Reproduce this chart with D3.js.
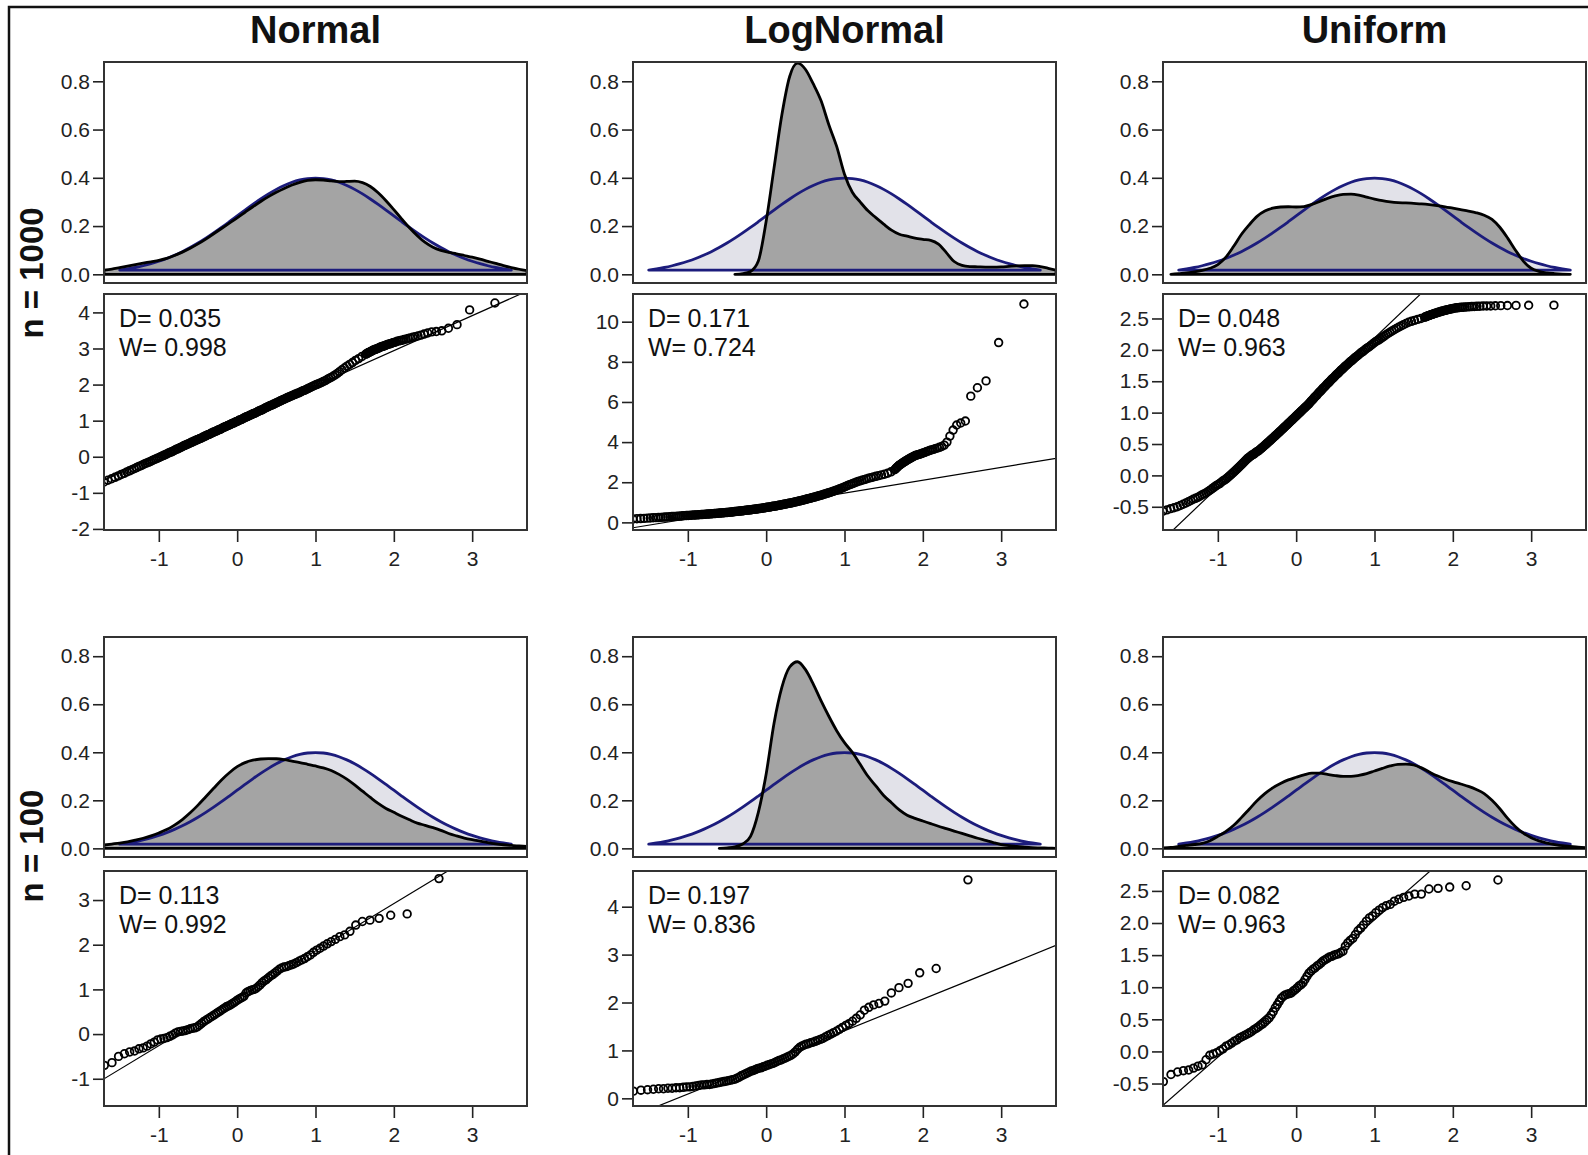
<!DOCTYPE html>
<html>
<head>
<meta charset="utf-8">
<script src="https://cdn.jsdelivr.net/npm/d3@7"></script>
<style>
body { margin: 0; background: #fff; }
svg { display: block; }
</style>
</head>
<body>
<svg id="chart" width="1588" height="1155"></svg>
<script>
// ---- data ----
const columns = ['Normal', 'LogNormal', 'Uniform'];
const rowLabels = ['n = 1000', 'n = 100'];
const sampleSizes = [1000, 100];

// density grid: -1.7 .. 3.7 by 0.1 (55 points); null = curve not drawn there
const densGrid = d3.range(55).map(i => +(-1.7 + i * 0.1).toFixed(1));

// reference normal curve, mean 1 sd 1, drawn from -1.5 to 3.5
const densBlue = [
  null, null, 0.0175, 0.0224, 0.0283, 0.0355, 0.0440, 0.0540, 0.0656, 0.0790,
  0.0940, 0.1109, 0.1295, 0.1497, 0.1714, 0.1942, 0.2179, 0.2420, 0.2661, 0.2897,
  0.3123, 0.3332, 0.3521, 0.3683, 0.3814, 0.3910, 0.3970, 0.3989, 0.3970, 0.3910,
  0.3814, 0.3683, 0.3521, 0.3332, 0.3123, 0.2897, 0.2661, 0.2420, 0.2179, 0.1942,
  0.1714, 0.1497, 0.1295, 0.1109, 0.0940, 0.0790, 0.0656, 0.0540, 0.0440, 0.0355,
  0.0283, 0.0224, 0.0175, null, null
];

const densNormal1000 = [
  0.017, 0.022, 0.028, 0.034, 0.040, 0.046, 0.052, 0.058, 0.066, 0.078,
  0.092, 0.108, 0.126, 0.146, 0.168, 0.190, 0.212, 0.234, 0.257, 0.280,
  0.302, 0.322, 0.340, 0.356, 0.370, 0.381, 0.389, 0.392, 0.391, 0.387,
  0.384, 0.385, 0.386, 0.380, 0.364, 0.338, 0.305, 0.268, 0.230, 0.193,
  0.160, 0.132, 0.112, 0.099, 0.091, 0.085, 0.078, 0.071, 0.063, 0.054,
  0.045, 0.036, 0.028, 0.021, 0.015
];
const densLogNormal1000 = [
  null, null, null, null, null, null, null, null, null, null,
  null, null, null, 0.000, 0.003, 0.012, 0.055, 0.220, 0.440, 0.660,
  0.820, 0.875, 0.850, 0.790, 0.720, 0.620, 0.530, 0.415, 0.340, 0.300,
  0.263, 0.235, 0.208, 0.183, 0.166, 0.158, 0.150, 0.145, 0.141, 0.125,
  0.090, 0.053, 0.037, 0.032, 0.031, 0.030, 0.030, 0.031, 0.033, 0.035,
  0.036, 0.036, 0.032, 0.025, 0.017
];
const densUniform1000 = [
  null, 0.000, 0.003, 0.006, 0.010, 0.016, 0.025, 0.040, 0.070, 0.115,
  0.165, 0.205, 0.240, 0.262, 0.274, 0.279, 0.280, 0.279, 0.281, 0.290,
  0.302, 0.315, 0.325, 0.331, 0.332, 0.328, 0.320, 0.312, 0.305, 0.300,
  0.297, 0.296, 0.294, 0.292, 0.289, 0.285, 0.280, 0.274, 0.268, 0.262,
  0.255, 0.245, 0.228, 0.195, 0.150, 0.100, 0.055, 0.025, 0.012, 0.006,
  0.003, 0.001, 0.000, null, null
];
const densNormal100 = [
  0.014, 0.018, 0.022, 0.027, 0.034, 0.042, 0.052, 0.064, 0.078, 0.097,
  0.120, 0.148, 0.180, 0.215, 0.250, 0.285, 0.315, 0.340, 0.357, 0.367,
  0.372, 0.374, 0.373, 0.369, 0.363, 0.357, 0.350, 0.343, 0.335, 0.324,
  0.308, 0.288, 0.264, 0.238, 0.212, 0.187, 0.166, 0.150, 0.134, 0.119,
  0.105, 0.096, 0.086, 0.075, 0.062, 0.052, 0.043, 0.036, 0.030, 0.024,
  0.019, 0.015, 0.012, 0.010, 0.008
];
const densLogNormal100 = [
  null, null, null, null, null, null, null, null, null, null,
  null, 0.000, 0.002, 0.006, 0.018, 0.050, 0.150, 0.310, 0.520, 0.670,
  0.755, 0.777, 0.745, 0.685, 0.615, 0.550, 0.490, 0.440, 0.400, 0.350,
  0.300, 0.260, 0.220, 0.190, 0.160, 0.138, 0.125, 0.114, 0.103, 0.092,
  0.082, 0.072, 0.062, 0.052, 0.042, 0.033, 0.024, 0.016, 0.011, 0.008,
  0.005, 0.003, 0.002, 0.001, 0.000
];
const densUniform100 = [
  0.002, 0.004, 0.008, 0.012, 0.016, 0.021, 0.032, 0.050, 0.070, 0.095,
  0.128, 0.163, 0.198, 0.228, 0.252, 0.270, 0.285, 0.296, 0.306, 0.313,
  0.313, 0.308, 0.303, 0.300, 0.300, 0.304, 0.311, 0.322, 0.333, 0.343,
  0.350, 0.351, 0.347, 0.335, 0.318, 0.302, 0.289, 0.278, 0.268, 0.258,
  0.245, 0.228, 0.200, 0.165, 0.125, 0.090, 0.063, 0.044, 0.031, 0.022,
  0.016, 0.011, 0.008, 0.005, 0.003
];

// sorted sample values. n = 1000: order statistics 35,40,...,945 then 950..1000
const ranks1000 = d3.range(35, 950, 5).concat(d3.range(950, 1001));
const ranks100 = d3.range(1, 101);

const qqNormal1000 = [
  -0.82, -0.76, -0.70, -0.65, -0.61, -0.57, -0.53, -0.49, -0.46, -0.42,
  -0.39, -0.36, -0.33, -0.30, -0.27, -0.25, -0.22, -0.19, -0.17, -0.15,
  -0.13, -0.10, -0.08, -0.06, -0.04, -0.02, 0.00, 0.02, 0.04, 0.06,
  0.08, 0.10, 0.12, 0.13, 0.15, 0.17, 0.19, 0.21, 0.22, 0.24,
  0.26, 0.27, 0.29, 0.31, 0.32, 0.34, 0.35, 0.37, 0.38, 0.40,
  0.41, 0.43, 0.44, 0.46, 0.47, 0.48, 0.50, 0.51, 0.52, 0.54,
  0.55, 0.57, 0.58, 0.60, 0.61, 0.62, 0.63, 0.65, 0.66, 0.68,
  0.69, 0.70, 0.71, 0.73, 0.74, 0.75, 0.76, 0.78, 0.79, 0.81,
  0.82, 0.83, 0.84, 0.86, 0.87, 0.88, 0.89, 0.91, 0.92, 0.93,
  0.94, 0.96, 0.97, 0.98, 0.99, 1.01, 1.02, 1.03, 1.04, 1.06,
  1.07, 1.09, 1.10, 1.11, 1.12, 1.14, 1.15, 1.16, 1.17, 1.19,
  1.20, 1.21, 1.22, 1.24, 1.25, 1.27, 1.28, 1.29, 1.30, 1.32,
  1.33, 1.35, 1.36, 1.38, 1.39, 1.41, 1.42, 1.43, 1.44, 1.46,
  1.47, 1.49, 1.50, 1.52, 1.53, 1.55, 1.56, 1.58, 1.59, 1.61,
  1.62, 1.64, 1.65, 1.67, 1.68, 1.70, 1.71, 1.73, 1.74, 1.76,
  1.77, 1.79, 1.81, 1.83, 1.84, 1.86, 1.88, 1.90, 1.92, 1.94,
  1.96, 1.98, 2.00, 2.02, 2.04, 2.06, 2.09, 2.11, 2.14, 2.17,
  2.20, 2.23, 2.27, 2.31, 2.36, 2.41, 2.46, 2.51, 2.56, 2.61,
  2.67, 2.72, 2.78,
  2.84, 2.85, 2.86, 2.88, 2.89, 2.90, 2.91, 2.92, 2.94, 2.95,
  2.96, 2.97, 2.98, 2.99, 3.00, 3.01, 3.03, 3.04, 3.05, 3.06,
  3.07, 3.08, 3.10, 3.11, 3.12, 3.13, 3.14, 3.16, 3.17, 3.18,
  3.20, 3.21, 3.22, 3.23, 3.25, 3.26, 3.28, 3.29, 3.31, 3.33,
  3.35, 3.37, 3.40, 3.43, 3.46, 3.47, 3.49, 3.56, 3.66, 4.07,
  4.26
];
const qqLogNormal1000 = [
  0.14, 0.155, 0.17, 0.18, 0.19, 0.20, 0.21, 0.22, 0.23, 0.235,
  0.24, 0.25, 0.26, 0.265, 0.27, 0.28, 0.29, 0.295, 0.30, 0.305,
  0.31, 0.32, 0.33, 0.335, 0.34, 0.345, 0.35, 0.355, 0.36, 0.365,
  0.37, 0.375, 0.38, 0.385, 0.39, 0.395, 0.40, 0.405, 0.41, 0.415,
  0.42, 0.425, 0.43, 0.435, 0.44, 0.445, 0.45, 0.455, 0.46, 0.465,
  0.47, 0.475, 0.48, 0.485, 0.49, 0.495, 0.50, 0.505, 0.51, 0.515,
  0.52, 0.53, 0.54, 0.545, 0.55, 0.555, 0.56, 0.565, 0.57, 0.575,
  0.58, 0.59, 0.60, 0.605, 0.61, 0.615, 0.62, 0.625, 0.63, 0.64,
  0.65, 0.655, 0.66, 0.665, 0.67, 0.68, 0.69, 0.695, 0.70, 0.71,
  0.72, 0.725, 0.73, 0.74, 0.75, 0.755, 0.76, 0.77, 0.78, 0.79,
  0.80, 0.805, 0.81, 0.82, 0.83, 0.84, 0.85, 0.86, 0.87, 0.88,
  0.89, 0.90, 0.91, 0.92, 0.93, 0.94, 0.95, 0.96, 0.97, 0.98,
  0.99, 1.005, 1.02, 1.03, 1.04, 1.055, 1.07, 1.08, 1.09, 1.105,
  1.12, 1.135, 1.15, 1.165, 1.18, 1.195, 1.21, 1.225, 1.24, 1.255,
  1.27, 1.29, 1.31, 1.325, 1.34, 1.36, 1.38, 1.40, 1.42, 1.44,
  1.46, 1.48, 1.50, 1.525, 1.55, 1.575, 1.60, 1.63, 1.66, 1.69,
  1.72, 1.755, 1.79, 1.825, 1.86, 1.895, 1.93, 1.965, 2.00, 2.035,
  2.07, 2.10, 2.13, 2.165, 2.20, 2.23, 2.26, 2.295, 2.33, 2.365,
  2.40, 2.45, 2.52,
  2.62, 2.66, 2.70, 2.74, 2.78, 2.82, 2.85, 2.88, 2.91, 2.94,
  2.97, 3.00, 3.03, 3.06, 3.09, 3.12, 3.15, 3.18, 3.21, 3.24,
  3.27, 3.30, 3.33, 3.35, 3.37, 3.39, 3.41, 3.43, 3.46, 3.49,
  3.52, 3.55, 3.58, 3.61, 3.64, 3.67, 3.70, 3.74, 3.78, 3.85,
  4.00, 4.30, 4.60, 4.85, 4.95, 5.05, 6.29, 6.71, 7.05, 8.96,
  10.88
];
const qqUniform1000 = [
  -0.61, -0.59, -0.57, -0.55, -0.53, -0.515, -0.50, -0.48, -0.46, -0.44,
  -0.42, -0.40, -0.38, -0.365, -0.35, -0.33, -0.31, -0.295, -0.28, -0.26,
  -0.24, -0.22, -0.20, -0.18, -0.16, -0.145, -0.13, -0.11, -0.09, -0.075,
  -0.06, -0.04, -0.02, 0.00, 0.02, 0.04, 0.06, 0.08, 0.10, 0.12,
  0.14, 0.16, 0.18, 0.20, 0.22, 0.24, 0.26, 0.275, 0.29, 0.305,
  0.32, 0.33, 0.34, 0.355, 0.37, 0.38, 0.39, 0.405, 0.42, 0.435,
  0.45, 0.465, 0.48, 0.495, 0.51, 0.525, 0.54, 0.555, 0.57, 0.585,
  0.60, 0.615, 0.63, 0.645, 0.66, 0.675, 0.69, 0.705, 0.72, 0.735,
  0.75, 0.765, 0.78, 0.795, 0.81, 0.825, 0.84, 0.855, 0.87, 0.885,
  0.90, 0.915, 0.93, 0.945, 0.96, 0.975, 0.99, 1.005, 1.02, 1.035,
  1.05, 1.065, 1.08, 1.095, 1.11, 1.125, 1.14, 1.16, 1.18, 1.195,
  1.21, 1.23, 1.25, 1.265, 1.28, 1.30, 1.32, 1.335, 1.35, 1.37,
  1.39, 1.405, 1.42, 1.44, 1.46, 1.475, 1.49, 1.51, 1.53, 1.545,
  1.56, 1.58, 1.60, 1.615, 1.63, 1.65, 1.67, 1.685, 1.70, 1.72,
  1.74, 1.755, 1.77, 1.79, 1.81, 1.825, 1.84, 1.86, 1.88, 1.895,
  1.91, 1.93, 1.95, 1.965, 1.98, 2.00, 2.02, 2.035, 2.05, 2.07,
  2.09, 2.11, 2.13, 2.145, 2.16, 2.18, 2.20, 2.22, 2.24, 2.26,
  2.28, 2.30, 2.32, 2.34, 2.36, 2.38, 2.40, 2.42, 2.44, 2.455,
  2.47, 2.485, 2.50,
  2.52, 2.525, 2.53, 2.535, 2.54, 2.545, 2.55, 2.555, 2.56, 2.565,
  2.57, 2.575, 2.58, 2.585, 2.59, 2.595, 2.60, 2.605, 2.61, 2.615,
  2.62, 2.625, 2.63, 2.635, 2.64, 2.645, 2.65, 2.655, 2.66, 2.665,
  2.67, 2.672, 2.675, 2.678, 2.68, 2.682, 2.685, 2.688, 2.69, 2.692,
  2.694, 2.696, 2.698, 2.70, 2.70, 2.702, 2.704, 2.706, 2.708, 2.71,
  2.712
];
const qqNormal100 = [
  -1.40, -0.98, -0.85, -0.78, -0.70, -0.64, -0.50, -0.44, -0.40, -0.38,
  -0.33, -0.31, -0.27, -0.22, -0.18, -0.13, -0.11, -0.10, -0.08, -0.05,
  -0.02, 0.02, 0.05, 0.06, 0.07, 0.08, 0.10, 0.12, 0.13, 0.14,
  0.16, 0.20, 0.24, 0.28, 0.31, 0.34, 0.37, 0.40, 0.43, 0.46,
  0.49, 0.52, 0.55, 0.58, 0.61, 0.63, 0.65, 0.68, 0.71, 0.74,
  0.77, 0.80, 0.82, 0.85, 0.92, 0.95, 0.97, 0.99, 1.00, 1.02,
  1.06, 1.10, 1.15, 1.19, 1.22, 1.26, 1.30, 1.33, 1.37, 1.41,
  1.45, 1.48, 1.50, 1.51, 1.53, 1.55, 1.57, 1.60, 1.63, 1.66,
  1.69, 1.73, 1.77, 1.83, 1.88, 1.92, 1.97, 2.02, 2.07, 2.12,
  2.18, 2.22, 2.30, 2.44, 2.52, 2.55, 2.59, 2.66, 2.69, 3.48
];
const qqLogNormal100 = [
  0.03, 0.08, 0.10, 0.12, 0.15, 0.17, 0.18, 0.19, 0.20, 0.20,
  0.21, 0.21, 0.22, 0.22, 0.23, 0.24, 0.24, 0.25, 0.26, 0.27,
  0.28, 0.28, 0.29, 0.29, 0.30, 0.31, 0.32, 0.33, 0.34, 0.35,
  0.36, 0.37, 0.38, 0.39, 0.40, 0.42, 0.44, 0.47, 0.49, 0.51,
  0.53, 0.55, 0.57, 0.58, 0.60, 0.62, 0.63, 0.64, 0.66, 0.67,
  0.69, 0.70, 0.72, 0.73, 0.75, 0.77, 0.79, 0.80, 0.82, 0.84,
  0.86, 0.88, 0.90, 0.93, 0.97, 1.02, 1.06, 1.09, 1.11, 1.13,
  1.14, 1.16, 1.17, 1.19, 1.21, 1.23, 1.25, 1.28, 1.31, 1.34,
  1.37, 1.40, 1.44, 1.48, 1.52, 1.56, 1.61, 1.67, 1.74, 1.84,
  1.90, 1.95, 1.98, 2.03, 2.20, 2.31, 2.40, 2.62, 2.71, 4.56
];
const qqUniform100 = [
  -0.74, -0.66, -0.60, -0.55, -0.47, -0.36, -0.32, -0.30, -0.29, -0.26,
  -0.23, -0.21, -0.13, -0.06, -0.04, -0.02, 0.01, 0.04, 0.08, 0.10,
  0.13, 0.16, 0.18, 0.21, 0.23, 0.25, 0.27, 0.29, 0.31, 0.34,
  0.36, 0.38, 0.41, 0.43, 0.46, 0.49, 0.52, 0.57, 0.62, 0.68,
  0.73, 0.78, 0.83, 0.86, 0.88, 0.89, 0.90, 0.91, 0.94, 0.96,
  0.99, 1.02, 1.04, 1.07, 1.12, 1.17, 1.22, 1.25, 1.28, 1.30,
  1.33, 1.35, 1.38, 1.41, 1.43, 1.45, 1.47, 1.48, 1.50, 1.51,
  1.52, 1.54, 1.56, 1.64, 1.69, 1.73, 1.76, 1.82, 1.88, 1.92,
  1.97, 2.03, 2.08, 2.11, 2.16, 2.20, 2.24, 2.27, 2.29, 2.34,
  2.37, 2.40, 2.42, 2.45, 2.45, 2.53, 2.54, 2.56, 2.58, 2.67
];

// per panel, in order Normal/LogNormal/Uniform for n=1000 then n=100
const statD = ['0.035', '0.171', '0.048', '0.113', '0.197', '0.082'];
const statW = ['0.998', '0.724', '0.963', '0.992', '0.836', '0.963'];
const qqIntercept = [1.0, 0.82, 1.0, 0.80, 0.75, 0.98];
const qqSlope = [0.97, 0.64, 1.19, 1.06, 0.66, 1.07];
const qqYMin = [-2.03, -0.38, -0.87, -1.61, -0.16, -0.85];
const qqYMax = [4.51, 11.38, 2.89, 3.65, 4.745, 2.81];
const qqYTicks = [
  [-2, -1, 0, 1, 2, 3, 4],
  [0, 2, 4, 6, 8, 10],
  [-0.5, 0, 0.5, 1, 1.5, 2, 2.5],
  [-1, 0, 1, 2, 3],
  [0, 1, 2, 3, 4],
  [-0.5, 0, 0.5, 1, 1.5, 2, 2.5]
];
const qqYDecimals = [0, 0, 1, 0, 0, 1];
const xTicks = [-1, 0, 1, 2, 3];
const densTicks = [0, 0.2, 0.4, 0.6, 0.8];

const densArrays = [
  [densNormal1000, densLogNormal1000, densUniform1000],
  [densNormal100, densLogNormal100, densUniform100]
];
const qqArrays = [
  [qqNormal1000, qqLogNormal1000, qqUniform1000],
  [qqNormal100, qqLogNormal100, qqUniform100]
];
const qqRanks = [ranks1000, ranks100];

// ---- layout ----
const fontFamily = '"Liberation Sans", Arial, Helvetica, sans-serif';
const xDomain = [-1.7, 3.7];
const densYDomain = [-0.036, 0.88];
const colLeft = [104, 633, 1163];
const panelW = 423;
const rowBoxes = [
  { dens: [62, 283], qq: [294, 530], labelY: 273 },
  { dens: [637, 857], qq: [871, 1106], labelY: 846 }
];

const svg = d3.select('#chart').attr('font-family', fontFamily);

// standard normal quantile (Acklam) for theoretical QQ positions
function qnorm(p) {
  const a = [-3.969683028665376e+01, 2.209460984245205e+02, -2.759285104469687e+02,
    1.383577518672690e+02, -3.066479806614716e+01, 2.506628277459239e+00];
  const b = [-5.447609879822406e+01, 1.615858368580409e+02, -1.556989798598866e+02,
    6.680131188771972e+01, -1.328068155288572e+01];
  const c = [-7.784894002430293e-03, -3.223964580411365e-01, -2.400758277161838e+00,
    -2.549732539343734e+00, 4.374664141464968e+00, 2.938163982698783e+00];
  const d = [7.784695709041462e-03, 3.224671290700398e-01, 2.445134137142996e+00,
    3.754408661907416e+00];
  const plow = 0.02425;
  let q, r;
  if (p < plow) {
    q = Math.sqrt(-2 * Math.log(p));
    return (((((c[0]*q+c[1])*q+c[2])*q+c[3])*q+c[4])*q+c[5]) / ((((d[0]*q+d[1])*q+d[2])*q+d[3])*q+1);
  }
  if (p > 1 - plow) {
    q = Math.sqrt(-2 * Math.log(1 - p));
    return -(((((c[0]*q+c[1])*q+c[2])*q+c[3])*q+c[4])*q+c[5]) / ((((d[0]*q+d[1])*q+d[2])*q+d[3])*q+1);
  }
  q = p - 0.5;
  r = q * q;
  return (((((a[0]*r+a[1])*r+a[2])*r+a[3])*r+a[4])*r+a[5])*q / (((((b[0]*r+b[1])*r+b[2])*r+b[3])*r+b[4])*r+1);
}

let clipCount = 0;
function clipRect(x, y, w, h) {
  const id = 'clip' + (clipCount++);
  svg.append('clipPath').attr('id', id)
    .append('rect').attr('x', x).attr('y', y).attr('width', w).attr('height', h);
  return 'url(#' + id + ')';
}

function styleAxis(g) {
  g.select('.domain').remove();
  g.attr('font-size', 21).attr('font-family', fontFamily);
  g.selectAll('.tick line').attr('stroke', '#222').attr('stroke-width', 1.6);
  g.selectAll('.tick text').attr('fill', '#222');
}

function border(left, top, bottom) {
  svg.append('rect')
    .attr('x', left).attr('y', top)
    .attr('width', panelW).attr('height', bottom - top)
    .attr('fill', 'none').attr('stroke', '#333').attr('stroke-width', 2);
}

// outer frame of the figure (cropped on right and bottom)
svg.append('path')
  .attr('d', 'M9,1155V7H1588')
  .attr('fill', 'none').attr('stroke', '#111').attr('stroke-width', 2.5);

// column titles
columns.forEach((name, c) => {
  svg.append('text')
    .attr('x', colLeft[c] + panelW / 2).attr('y', 43)
    .attr('text-anchor', 'middle')
    .attr('font-size', 38).attr('font-weight', 'bold')
    .attr('fill', '#111')
    .text(name);
});

// row labels
rowLabels.forEach((lab, r) => {
  svg.append('text')
    .attr('transform', 'translate(43,' + rowBoxes[r].labelY + ') rotate(-90)')
    .attr('text-anchor', 'middle')
    .attr('font-size', 33).attr('font-weight', 'bold')
    .attr('fill', '#111')
    .text(lab);
});

function drawDensity(r, c) {
  const [top, bottom] = rowBoxes[r].dens;
  const left = colLeft[c];
  const x = d3.scaleLinear().domain(xDomain).range([left, left + panelW]);
  const y = d3.scaleLinear().domain(densYDomain).range([bottom, top]);

  const plot = svg.append('g').attr('clip-path', clipRect(left, top, panelW, bottom - top));

  const bluePts = densGrid.map((v, i) => [v, densBlue[i]]).filter(d => d[1] != null);
  const kdePts = densGrid.map((v, i) => [v, densArrays[r][c][i]]).filter(d => d[1] != null);

  const line = d3.line().x(d => x(d[0])).y(d => y(d[1])).curve(d3.curveMonotoneX);
  const area = d3.area().x(d => x(d[0])).y0(y(0)).y1(d => y(d[1])).curve(d3.curveMonotoneX);
  const bluePath = line(bluePts) + 'Z';
  const kdePath = area(kdePts);

  plot.append('path').attr('d', bluePath).attr('fill', '#e2e2e9');
  plot.append('path').attr('d', kdePath).attr('fill', '#a4a4a4');
  plot.append('path').attr('d', bluePath)
    .attr('fill', 'none').attr('stroke', '#1c1c7c').attr('stroke-width', 2.8)
    .attr('stroke-linejoin', 'round');
  plot.append('path').attr('d', kdePath)
    .attr('fill', 'none').attr('stroke', '#000').attr('stroke-width', 2.8)
    .attr('stroke-linejoin', 'round');

  svg.append('g')
    .attr('transform', 'translate(' + left + ',0)')
    .call(d3.axisLeft(y).tickValues(densTicks).tickSize(11).tickPadding(3)
      .tickFormat(v => v.toFixed(1)))
    .call(styleAxis);

  border(left, top, bottom);
}

function drawQQ(r, c) {
  const [top, bottom] = rowBoxes[r].qq;
  const left = colLeft[c];
  const k = r * 3 + c;
  const n = sampleSizes[r];
  const ranks = qqRanks[r];
  const vals = qqArrays[r][c];

  const x = d3.scaleLinear().domain(xDomain).range([left, left + panelW]);
  const y = d3.scaleLinear().domain([qqYMin[k], qqYMax[k]]).range([bottom, top]);

  const plot = svg.append('g').attr('clip-path', clipRect(left, top, panelW, bottom - top));

  const pts = vals.map((v, i) => [qnorm((ranks[i] - 0.5) / n), v]);
  plot.selectAll('circle')
    .data(pts)
    .join('circle')
    .attr('cx', d => x(d[0]))
    .attr('cy', d => y(d[1]))
    .attr('r', 3.8)
    .attr('fill', 'none')
    .attr('stroke', '#000')
    .attr('stroke-width', 1.8);

  plot.append('line')
    .attr('x1', x(xDomain[0])).attr('y1', y(qqIntercept[k] + qqSlope[k] * xDomain[0]))
    .attr('x2', x(xDomain[1])).attr('y2', y(qqIntercept[k] + qqSlope[k] * xDomain[1]))
    .attr('stroke', '#000').attr('stroke-width', 1.2);

  const dec = qqYDecimals[k];
  svg.append('g')
    .attr('transform', 'translate(' + left + ',0)')
    .call(d3.axisLeft(y).tickValues(qqYTicks[k]).tickSize(11).tickPadding(3)
      .tickFormat(v => v.toFixed(dec)))
    .call(styleAxis);

  svg.append('g')
    .attr('transform', 'translate(0,' + bottom + ')')
    .call(d3.axisBottom(x).tickValues(xTicks).tickSize(12).tickPadding(9)
      .tickFormat(v => String(v)))
    .call(styleAxis);

  svg.append('text')
    .attr('x', left + 15).attr('y', top + 33)
    .attr('font-size', 25).attr('fill', '#111')
    .text('D= ' + statD[k]);
  svg.append('text')
    .attr('x', left + 15).attr('y', top + 62)
    .attr('font-size', 25).attr('fill', '#111')
    .text('W= ' + statW[k]);

  border(left, top, bottom);
}

for (let r = 0; r < 2; r++) {
  for (let c = 0; c < 3; c++) {
    drawDensity(r, c);
    drawQQ(r, c);
  }
}
</script>
</body>
</html>
